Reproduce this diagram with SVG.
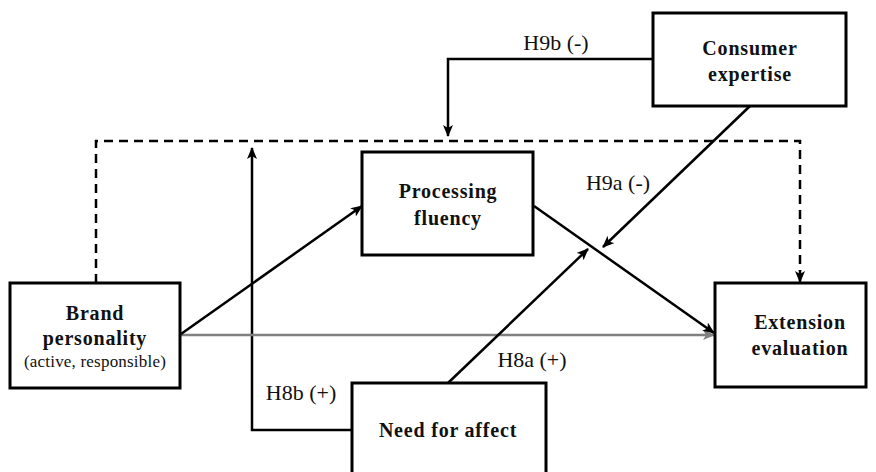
<svg xmlns="http://www.w3.org/2000/svg" width="876" height="472" viewBox="0 0 876 472">
<defs>
<style>
.box{fill:#fff;stroke:#000;stroke-width:3}
.bt{font-family:"Liberation Serif","Times New Roman",serif;font-weight:bold;font-size:20px;letter-spacing:0.8px;text-anchor:middle;fill:#111}
.sub{font-family:"Liberation Serif","Times New Roman",serif;font-size:17px;letter-spacing:0.2px;text-anchor:middle;fill:#111}
.lbl{font-family:"Liberation Serif","Times New Roman",serif;font-size:22px;text-anchor:middle;fill:#111}
.ln{fill:none;stroke:#000;stroke-width:2.5}
.dash{fill:none;stroke:#000;stroke-width:2.5;stroke-dasharray:9,6}
.gray{fill:none;stroke:#808080;stroke-width:2.5}
</style>
<marker id="ah" viewBox="0 0 12 10" refX="11" refY="5" markerWidth="12" markerHeight="10" markerUnits="userSpaceOnUse" orient="auto">
<path d="M0,0 L12,5 L0,10 L3,5 z" fill="#000"/>
</marker>
<marker id="ahg" viewBox="0 0 12 10" refX="11" refY="5" markerWidth="12" markerHeight="10" markerUnits="userSpaceOnUse" orient="auto">
<path d="M0,0 L12,5 L0,10 L3,5 z" fill="#808080"/>
</marker>
</defs>
<rect width="876" height="472" fill="#fff"/>
<g id="connectors">
<path class="dash" d="M96,283 V141 H800 V271"/>
<path d="M800,270 V282" class="ln" marker-end="url(#ah)"/>
<path class="ln" d="M653,59 H448 V136" marker-end="url(#ah)"/>
<path class="ln" d="M352,430 H252 V148" marker-end="url(#ah)"/>
<path class="gray" d="M181,335 H714" marker-end="url(#ahg)"/>
<path class="ln" d="M181,334 L362,206" marker-end="url(#ah)"/>
<path class="ln" d="M534,206 L714,333" marker-end="url(#ah)"/>
<path class="ln" d="M750,106 L603,247" marker-end="url(#ah)"/>
<path class="ln" d="M448,383 L588,249" marker-end="url(#ah)"/>
<text class="lbl" x="556" y="50">H9b (-)</text>
<text class="lbl" x="618" y="190">H9a (-)</text>
<text class="lbl" x="532" y="367">H8a (+)</text>
<text class="lbl" x="301" y="400">H8b (+)</text>
</g>
<g id="brand">
<rect class="box" x="10" y="283" width="170" height="105"/>
<text class="bt" x="95" y="320">Brand</text>
<text class="bt" x="95" y="345">personality</text>
<text class="sub" x="95" y="367">(active, responsible)</text>
</g>
<g id="fluency">
<rect class="box" x="362" y="152" width="171" height="103"/>
<text class="bt" x="448" y="198">Processing</text>
<text class="bt" x="448" y="225">fluency</text>
</g>
<g id="expertise">
<rect class="box" x="653" y="13" width="193" height="93"/>
<text class="bt" x="750" y="55">Consumer</text>
<text class="bt" x="750" y="81">expertise</text>
</g>
<g id="extension">
<rect class="box" x="715" y="283" width="151" height="104"/>
<text class="bt" x="800" y="329">Extension</text>
<text class="bt" x="800" y="355">evaluation</text>
</g>
<g id="affect">
<rect class="box" x="352" y="383" width="194" height="100"/>
<text class="bt" x="448" y="437">Need for affect</text>
</g>
</svg>
